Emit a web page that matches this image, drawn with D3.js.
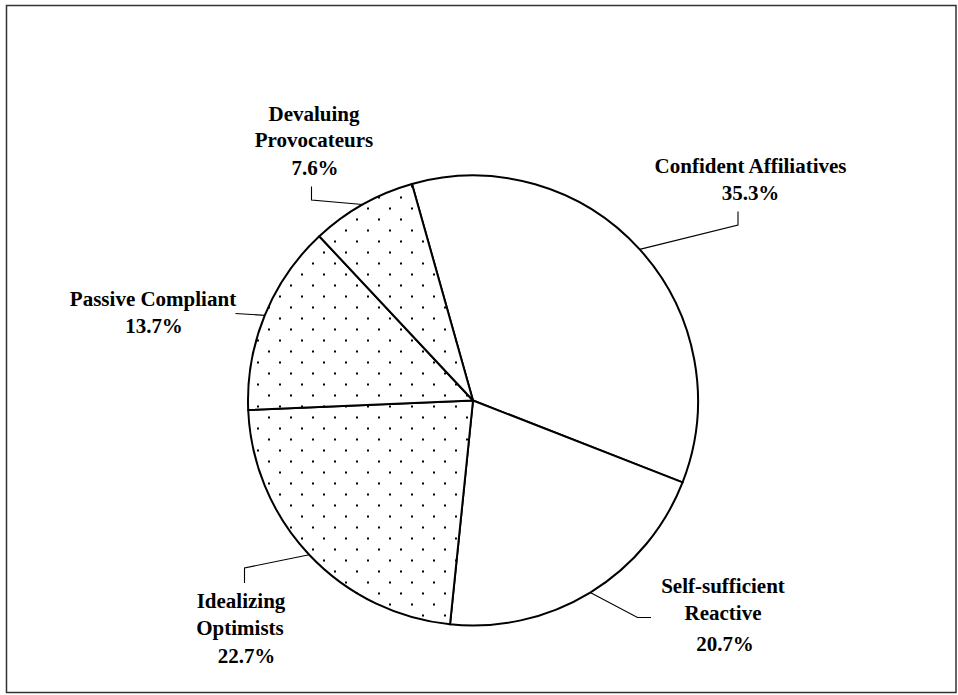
<!DOCTYPE html>
<html>
<head>
<meta charset="utf-8">
<script src="https://cdn.jsdelivr.net/npm/d3@7/dist/d3.min.js"></script>
<style>
  html, body { margin: 0; padding: 0; background: #fff; }
  svg { display: block; }
  .lbl { font-family: "Liberation Serif", "Times New Roman", Times, serif; font-weight: bold; font-size: 22px; fill: #000; }
</style>
</head>
<body>
<svg id="chart" width="958" height="695"></svg>
<script>
// Segment names (clockwise from the top), their shares in percent, and fill style
const segments = ["Confident Affiliatives", "Self-sufficient Reactive", "Idealizing Optimists", "Passive Compliant", "Devaluing Provocateurs"];
const shares = [35.3, 20.7, 22.7, 13.7, 7.6];
const dotted = [false, false, true, true, true];

// Label text lines for each segment (the percentage is appended from the data)
const labelLines = [
  ["Confident Affiliatives"],
  ["Self-sufficient", "Reactive"],
  ["Idealizing", "Optimists"],
  ["Passive Compliant"],
  ["Devaluing", "Provocateurs"]
];

const W = 958, H = 695;
const cx = 473, cy = 400.5, R = 225;
const startDeg = -15.74;
const textSquash = 0.955;

// Label placement: one [x, baseline] per text line, and the leader path
// (elbow points after the arc point)
const labelLayout = [
  { lines: [[750.5, 172.5], [750.5, 199.5]], leader: [[738, 225], [738, 211.5]] },
  { lines: [[723, 592.5], [723, 619.5], [725, 650.5]], leader: [[637.5, 617.5], [651, 617.5]] },
  { lines: [[241, 608], [240, 635], [246.5, 663]], leader: [[244.5, 568], [244.5, 583]] },
  { lines: [[153, 306], [154, 333]], leader: [[235.5, 313.5]] },
  { lines: [[314, 120.5], [314, 147], [315, 174.5]], leader: [[311.5, 200], [311.5, 186.5]] }
];

const svg = d3.select("#chart");

// dotted fill
const defs = svg.append("defs");
const pat = defs.append("pattern")
  .attr("id", "dots")
  .attr("patternUnits", "userSpaceOnUse")
  .attr("x", 268).attr("y", 379)
  .attr("width", 22).attr("height", 22);
pat.append("rect").attr("width", 22).attr("height", 22).attr("fill", "#fff");
pat.append("rect").attr("x", 0).attr("y", 0).attr("width", 2).attr("height", 2).attr("fill", "#000");
pat.append("rect").attr("x", 11).attr("y", 11).attr("width", 2).attr("height", 2).attr("fill", "#000");

// outer frame
svg.append("rect")
  .attr("x", 6.5).attr("y", 5.5)
  .attr("width", 949.5).attr("height", 687)
  .attr("fill", "#fff")
  .attr("stroke", "#333")
  .attr("stroke-width", 1.5);

const data = segments.map((name, i) => ({ name, value: shares[i], dotted: dotted[i], i }));

const pie = d3.pie()
  .sort(null)
  .value(d => d.value)
  .startAngle(startDeg * Math.PI / 180)
  .endAngle(startDeg * Math.PI / 180 + 2 * Math.PI);

const arcs = pie(data);
const arcGen = d3.arc().innerRadius(0).outerRadius(R);

const g = svg.append("g").attr("transform", `translate(${cx},${cy})`);

g.selectAll("path.slice")
  .data(arcs)
  .join("path")
  .attr("class", "slice")
  .attr("d", arcGen)
  .attr("fill", d => d.data.dotted ? "url(#dots)" : "#fff")
  .attr("stroke", "#000")
  .attr("stroke-width", 2)
  .attr("stroke-linejoin", "round");

// leader lines from the middle of each slice's rim
const lineGen = d3.line();
arcs.forEach((a, i) => {
  const mid = (a.startAngle + a.endAngle) / 2;
  const p0 = [cx + R * Math.sin(mid), cy - R * Math.cos(mid)];
  const pts = [p0].concat(labelLayout[i].leader);
  svg.append("path")
    .attr("d", lineGen(pts))
    .attr("fill", "none")
    .attr("stroke", "#000")
    .attr("stroke-width", 1.1);
});

// labels, slightly condensed horizontally
arcs.forEach((a, i) => {
  const texts = labelLines[i].concat([a.data.value.toFixed(1) + "%"]);
  texts.forEach((t, j) => {
    const [x, y] = labelLayout[i].lines[j];
    svg.append("text")
      .attr("class", "lbl")
      .attr("transform", `translate(${x},${y}) scale(${textSquash},1)`)
      .attr("text-anchor", "middle")
      .text(t);
  });
});
</script>
</body>
</html>
